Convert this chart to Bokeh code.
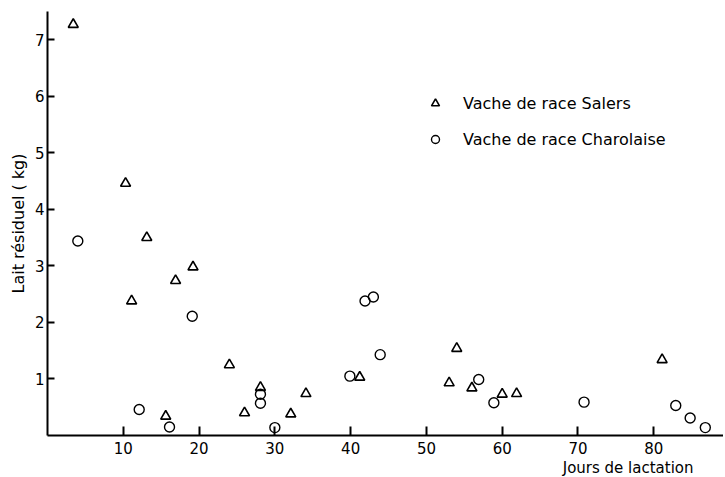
from bokeh.plotting import figure
from bokeh.models import Range1d, FixedTicker, Legend, LegendItem, Title
from bokeh.embed import file_html
from bokeh.resources import INLINE

# Vache de race Salers (triangles)
salers_jours = [3.4, 10.3, 11.1, 13.1, 15.6, 16.9, 19.2, 24.0, 26.0, 28.1, 32.1, 34.1, 41.2, 53.0, 54.0, 56.0, 60.0, 61.9, 81.1]
salers_lait = [7.27, 4.46, 2.38, 3.50, 0.34, 2.74, 2.98, 1.25, 0.40, 0.85, 0.38, 0.74, 1.03, 0.93, 1.54, 0.84, 0.73, 0.74, 1.34]

# Vache de race Charolaise (cercles)
charo_jours = [4.0, 12.1, 16.1, 19.1, 28.1, 28.1, 30.0, 39.9, 41.9, 43.0, 43.9, 56.9, 58.9, 70.8, 82.9, 84.8, 86.8]
charo_lait = [3.44, 0.46, 0.15, 2.11, 0.73, 0.57, 0.14, 1.05, 2.38, 2.45, 1.43, 0.99, 0.58, 0.59, 0.53, 0.31, 0.14]

x_ticks = [10, 20, 30, 40, 50, 60, 70, 80]
y_ticks = [1, 2, 3, 4, 5, 6, 7]

FONT = "DejaVu Sans"

p = figure(frame_width=676, frame_height=424, output_backend="svg", toolbar_location=None,
           x_range=Range1d(0, 89.2), y_range=Range1d(0, 7.5),
           min_border_left=47, min_border_right=0, min_border_top=11, min_border_bottom=0)
p.grid.visible = False
p.outline_line_color = None
p.background_fill_color = "white"
p.border_fill_color = "white"

r_s = p.scatter(salers_jours, salers_lait, marker="triangle", size=10, fill_color=None,
                line_color="black", line_width=1.6)
r_c = p.scatter(charo_jours, charo_lait, marker="circle", size=10, fill_color=None,
                line_color="black", line_width=1.4)

for ax in (p.xaxis[0], p.yaxis[0]):
    ax.axis_line_width = 2
    ax.axis_line_color = "black"
    ax.major_tick_line_width = 2
    ax.major_tick_out = 0
    ax.minor_tick_in = 0
    ax.minor_tick_out = 0
    ax.major_label_text_font = FONT
    ax.major_label_text_font_size = "15px"
    ax.major_label_text_color = "black"
    ax.axis_label_text_font = FONT
    ax.axis_label_text_font_size = "16px"
    ax.axis_label_text_font_style = "normal"
    ax.axis_label_text_color = "black"

p.xaxis.ticker = FixedTicker(ticks=x_ticks)
p.yaxis.ticker = FixedTicker(ticks=y_ticks)
p.xaxis.major_tick_in = 9
p.yaxis.major_tick_in = 7
p.xaxis.major_label_standoff = 6
p.yaxis.major_label_standoff = 3
p.yaxis.axis_label = "Lait résiduel ( kg)"
p.yaxis.axis_label_standoff = 4

t = Title(text="Jours de lactation", align="right", text_font=FONT, text_font_size="15px",
          text_font_style="normal", text_color="black", offset=30, standoff=0)
p.add_layout(t, "below")

legend = Legend(items=[LegendItem(label="Vache de race Salers", renderers=[r_s]),
                       LegendItem(label="Vache de race Charolaise", renderers=[r_c])],
                location=(378, 286), padding=0, margin=0, spacing=16,
                glyph_width=20, glyph_height=20, label_standoff=18,
                label_text_font=FONT, label_text_font_size="16px", label_text_color="black",
                border_line_color=None, background_fill_alpha=0)
p.add_layout(legend, "center")

open("out.html", "w").write(file_html(p, INLINE))
